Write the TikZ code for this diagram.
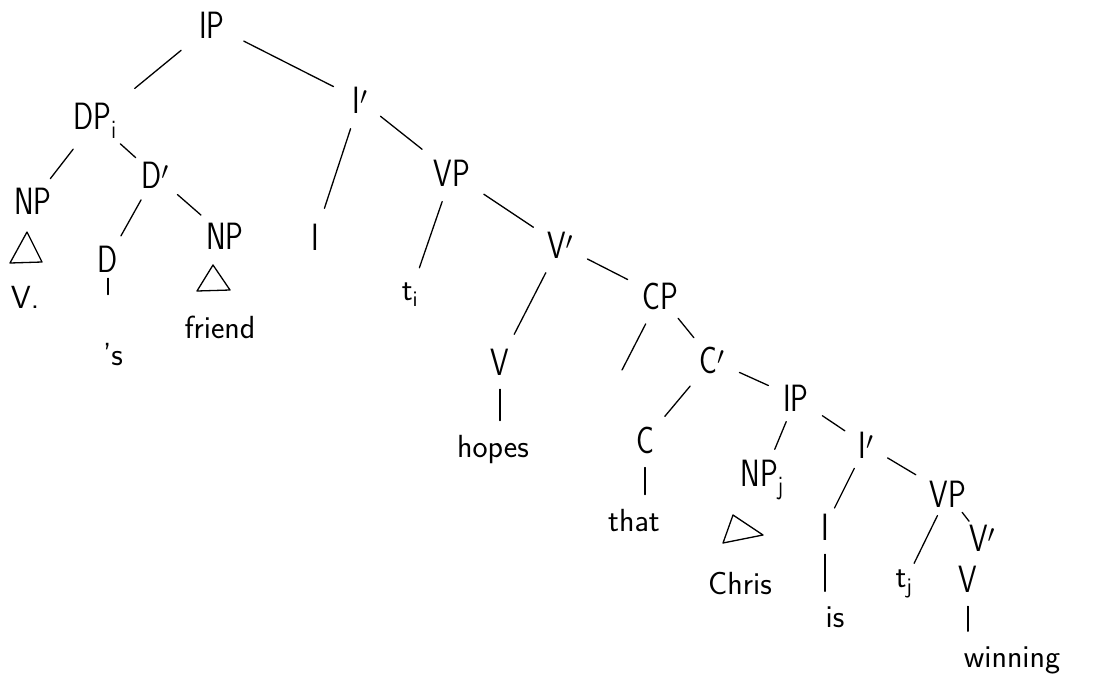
\documentclass[tikz,border=0pt]{standalone}
\usepackage{fontspec}
\newfontfamily\handfont[FakeStretch=0.78]{Latin Modern Sans}
\begin{document}
\begin{tikzpicture}[x=1pt,y=-1pt,
  lab/.style={font=\handfont\fontsize{38}{40}\selectfont, inner sep=1pt, text=black},
  word/.style={font=\sffamily\fontsize{32}{34}\selectfont, inner sep=1pt, text=black},
  branch/.style={draw=black, line width=1.3pt, line cap=round, shorten >=15pt, shorten <=15pt},
  unary/.style={draw=black, line width=1.3pt, line cap=round, shorten >=14pt, shorten <=13pt},
  tri/.style={draw=black, line width=1.3pt, line join=round}]
\useasboundingbox (0,0) rectangle (1094,683);
% nodes
\node[lab] (ip0) at (212,25) {IP};
\node[lab] (dp) at (95,121) {DP\textsubscript{i}};
\node[lab] (ib1) at (360,100) {I$'$};
\node[lab] (np1) at (33,201) {NP};
\node[lab] (db) at (155,175) {D$'$};
\node[lab] (d) at (108,259) {D};
\node[lab] (np2) at (225,236) {NP};
\node[lab] (i1) at (315,237) {I};
\node[lab] (vp1) at (452,173) {VP};
\node[word] (ti) at (410,295) {t\textsubscript{i}};
\node[lab] (vb1) at (560,245) {V$'$};
\node[lab] (v1) at (500,362) {V};
\node[word] (hopes) at (493,450) {hopes};
\node[lab] (cp) at (660,296) {CP};
\coordinate (cpspec) at (622,370);
\node[lab] (cb) at (712,360) {C$'$};
\node[lab] (c) at (645,440) {C};
\node[word] (that) at (634,521) {that};
\node[lab] (ip2) at (796,398) {IP};
\node[lab] (npj) at (762,480) {NP\textsubscript{j}};
\node[lab] (ib2) at (866,445) {I$'$};
\node[lab] (i2) at (825,527) {I};
\node[lab] (vp2) at (948,494) {VP};
\node[word] (tj) at (904,584) {t\textsubscript{j}};
\node[lab] (vb2) at (982,538) {V$'$};
\node[lab] (v2) at (968,579) {V};
\node[word] (winning) at (1012,660) {winning};
\node[word] (chris) at (740,583) {Chris};
\node[word] (is) at (835,617) {is};
\node[word] (vdot) at (25,297) {V.};
\node[word] (s) at (113,355) {'s};
\node[word] (friend) at (220,327) {friend};
% triangles
\draw[tri] (27,232) -- (10,263) -- (42,262) -- cycle;
\draw[tri] (213,265) -- (197,291) -- (230,290) -- cycle;
\draw[tri] (733,515) -- (723,543) -- (763,535) -- cycle;
% branches
\draw[branch, shorten >=22pt, shorten <=22pt] (ip0) -- (dp);
\draw[branch, shorten >=20pt, shorten <=20pt] (ip0) -- (ib1);
\draw[branch, shorten >=10pt, shorten <=12pt] (dp) -- (np1);
\draw[branch, shorten >=6pt, shorten <=6pt] (dp) -- (db);
\draw[branch, shorten >=10pt, shorten <=12pt] (db) -- (d);
\draw[branch, shorten >=10pt, shorten <=10pt] (db) -- (np2);
\draw[branch] (ib1) -- (i1);
\draw[branch] (ib1) -- (vp1);
\draw[branch] (vp1) -- (ti);
\draw[branch] (vp1) -- (vb1);
\draw[branch] (vb1) -- (v1);
\draw[branch] (vb1) -- (cp);
\draw[branch, shorten >=0pt] (cp) -- (cpspec);
\draw[branch, shorten >=10pt, shorten <=10pt] (cp) -- (cb);
\draw[branch] (cb) -- (c);
\draw[branch] (cb) -- (ip2);
\draw[branch, shorten >=10pt, shorten <=10pt] (ip2) -- (npj);
\draw[branch, shorten >=10pt, shorten <=10pt] (ib2) -- (i2);
\draw[branch] (ip2) -- (ib2);
\draw[branch] (ib2) -- (vp2);
\draw[branch, shorten >=6pt, shorten <=8pt] (vp2) -- (tj);
\draw[branch, shorten >=3pt, shorten <=5pt] (vp2) -- (vb2);
% unary
\draw[unary, shorten <=5pt, shorten >=48pt] (d.south) -- (d.south |- s.north);
\draw[unary] (v1.south) -- (v1.south |- hopes.north);
\draw[unary] (c.south) -- (c.south |- that.north);
\draw[unary] (i2.south) -- (i2.south |- is.north);
\draw[unary] (v2.south) -- (v2.south |- winning.north);
\end{tikzpicture}
\end{document}
